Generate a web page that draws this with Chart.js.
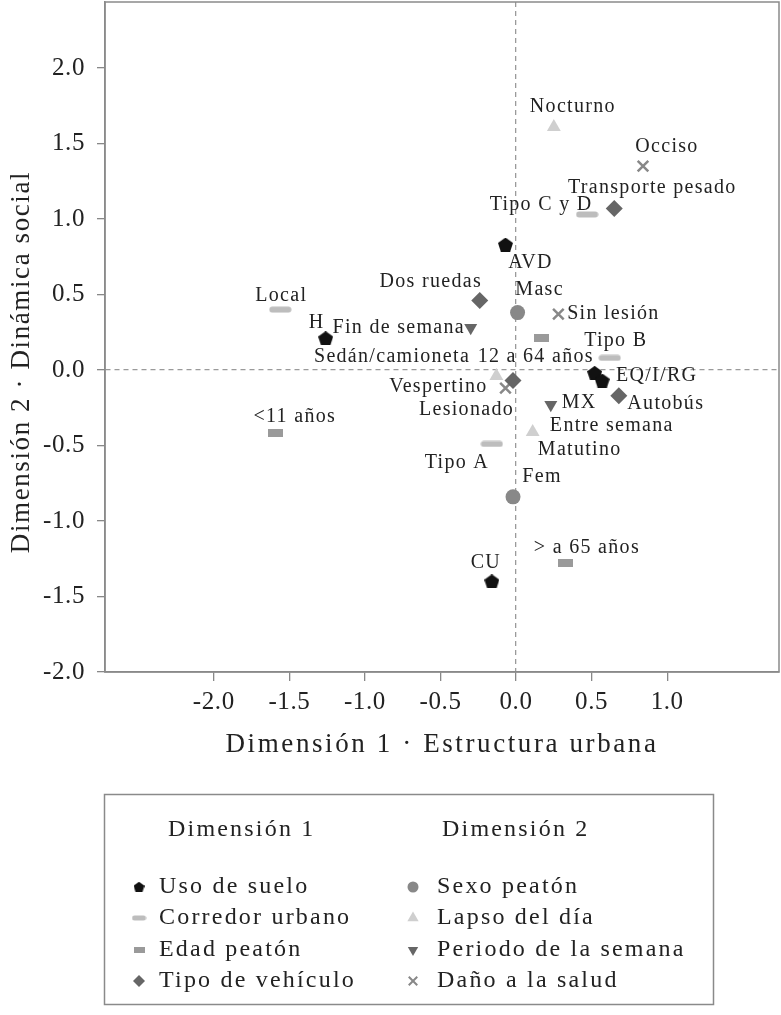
<!DOCTYPE html>
<html>
<head>
<meta charset="utf-8">
<script src="https://cdn.jsdelivr.net/npm/chart.js@4.4.1/dist/chart.umd.min.js"></script>
<style>
  html, body { margin: 0; padding: 0; background: #fff; }
  canvas { display: block; }
</style>
</head>
<body>
<canvas id="mapa" width="781" height="1015"></canvas>
<script>
// Dimensión 1
const usoNombres = ['AVD', 'H', 'EQ/I/RG', 'MX', 'CU'];
const usoX = [-0.07, -1.26, 0.52, 0.57, -0.16];
const usoY = [0.83, 0.21, -0.02, -0.07, -1.40];

const corredorNombres = ['Local', 'Tipo C y D', 'Tipo B', 'Tipo A'];
const corredorX = [-1.56, 0.47, 0.62, -0.16];
const corredorY = [0.40, 1.03, 0.08, -0.49];

const edadNombres = ['<11 años', '12 a 64 años', '> a 65 años'];
const edadX = [-1.59, 0.17, 0.33];
const edadY = [-0.42, 0.21, -1.28];

const vehiculoNombres = ['Dos ruedas', 'Transporte pesado', 'Sedán/camioneta', 'Autobús'];
const vehiculoX = [-0.24, 0.65, -0.02, 0.68];
const vehiculoY = [0.46, 1.07, -0.07, -0.17];

// Dimensión 2
const sexoNombres = ['Masc', 'Fem'];
const sexoX = [0.01, -0.02];
const sexoY = [0.38, -0.84];

const lapsoNombres = ['Nocturno', 'Vespertino', 'Matutino'];
const lapsoX = [0.25, -0.13, 0.11];
const lapsoY = [1.61, -0.04, -0.41];

const periodoNombres = ['Fin de semana', 'Entre semana'];
const periodoX = [-0.30, 0.23];
const periodoY = [0.28, -0.23];

const danoNombres = ['Occiso', 'Sin lesión', 'Lesionado'];
const danoX = [0.84, 0.28, -0.07];
const danoY = [1.35, 0.37, -0.12];

const xTicks = [-2.0, -1.5, -1.0, -0.5, 0.0, 0.5, 1.0];
const yTicks = [-2.0, -1.5, -1.0, -0.5, 0.0, 0.5, 1.0, 1.5, 2.0];

// donde va cada etiqueta respecto a su punto (px)
const desplaza = {
  'AVD': [25, 18], 'H': [-9, -16], 'EQ/I/RG': [62, 3], 'MX': [-23, 22], 'CU': [-6, -19],
  'Local': [1, -14], 'Tipo C y D': [-46, -10], 'Tipo B': [6, -17], 'Tipo A': [-35, 19],
  '<11 años': [19, -17], '12 a 64 años': [-6, 18], '> a 65 años': [21, -16],
  'Dos ruedas': [-49, -19], 'Transporte pesado': [38, -21], 'Sedán/camioneta': [-121, -24], 'Autobús': [47, 8],
  'Masc': [22, -23], 'Fem': [29, -20],
  'Nocturno': [19, -20], 'Vespertino': [-58, 11], 'Matutino': [47, 18],
  'Fin de semana': [-72, 0], 'Entre semana': [61, 21],
  'Occiso': [24, -19], 'Sin lesión': [55, 0], 'Lesionado': [-39, 22]
};

const FUENTE = '"Liberation Serif", "DejaVu Serif", serif';

function marca(tipo, w, h, color) {
  const c = document.createElement('canvas');
  c.width = w; c.height = h;
  const g = c.getContext('2d');
  g.fillStyle = color;
  if (tipo === 'pentagono') {
    const r = w / 2 / Math.sin(72 * Math.PI / 180);
    const cy = (h - 1.809 * r) / 2 + r;
    g.beginPath();
    for (let k = 0; k < 5; k++) {
      const a = -Math.PI / 2 + k * 2 * Math.PI / 5;
      g.lineTo(w / 2 + r * Math.cos(a), cy + r * Math.sin(a));
    }
    g.closePath();
    g.fill();
  } else if (tipo === 'pildora') {
    g.beginPath();
    g.roundRect(0.5, 0.5, w - 1, h - 1, (h - 1) / 2);
    g.fill();
  } else {
    g.fillRect(0, 0, w, h);
  }
  return c;
}

const pentagono = marca('pentagono', 15, 14, '#111');
const pildora = marca('pildora', 23, 7, '#bdbdbd');
const barra = marca('barra', 15, 8, '#9a9a9a');

function serie(label, nombres, xs, ys, estilo) {
  return Object.assign({
    label: label,
    nombres: nombres,
    data: xs.map((x, i) => ({ x: x, y: ys[i] })),
    pointBorderWidth: 0
  }, estilo);
}

const datasets = [
  serie('Uso de suelo', usoNombres, usoX, usoY, { pointStyle: pentagono, pointRadius: 7 }),
  serie('Corredor urbano', corredorNombres, corredorX, corredorY, { pointStyle: pildora, pointRadius: 7 }),
  serie('Edad peatón', edadNombres, edadX, edadY, { pointStyle: barra, pointRadius: 7 }),
  serie('Tipo de vehículo', vehiculoNombres, vehiculoX, vehiculoY, { pointStyle: 'rectRot', pointRadius: 8.5, pointBackgroundColor: '#666' }),
  serie('Sexo peatón', sexoNombres, sexoX, sexoY, { pointStyle: 'circle', pointRadius: 7.5, pointBackgroundColor: '#888' }),
  serie('Lapso del día', lapsoNombres, lapsoX, lapsoY, { pointStyle: 'triangle', pointRadius: 8, pointBackgroundColor: '#cfcfcf' }),
  serie('Periodo de la semana', periodoNombres, periodoX, periodoY, { pointStyle: 'triangle', pointRotation: 180, pointRadius: 7.5, pointBackgroundColor: '#666' }),
  serie('Daño a la salud', danoNombres, danoX, danoY, { pointStyle: 'crossRot', pointRadius: 7.5, pointBorderColor: '#888', pointBorderWidth: 2.5 })
];

// marcas chicas para el recuadro de abajo
const marcasLeyenda = [
  { pointStyle: marca('pentagono', 11, 10, '#111'), radius: 5 },
  { pointStyle: marca('pildora', 15, 6, '#bdbdbd'), radius: 5 },
  { pointStyle: marca('barra', 11, 6, '#9a9a9a'), radius: 5 },
  { pointStyle: 'rectRot', radius: 6, fill: '#666' },
  { pointStyle: 'circle', radius: 5.5, fill: '#888' },
  { pointStyle: 'triangle', radius: 6.5, fill: '#cfcfcf' },
  { pointStyle: 'triangle', rotation: 180, radius: 6, fill: '#666' },
  { pointStyle: 'crossRot', radius: 6, stroke: '#888' }
];

const etiquetas = {
  id: 'etiquetas',
  beforeDraw(chart) {
    chart.ctx.letterSpacing = '0.6px';
  },
  afterDatasetsDraw(chart) {
    const ctx = chart.ctx;
    ctx.save();
    ctx.font = '20px ' + FUENTE;
    ctx.letterSpacing = '1.3px';
    ctx.fillStyle = '#222';
    ctx.textAlign = 'center';
    ctx.textBaseline = 'middle';
    chart.data.datasets.forEach((ds, i) => {
      chart.getDatasetMeta(i).data.forEach((pt, j) => {
        const nombre = ds.nombres[j];
        const d = desplaza[nombre] || [0, -18];
        ctx.fillText(nombre, pt.x + d[0], pt.y + d[1]);
      });
    });
    ctx.restore();
  }
};

const marco = {
  id: 'marco',
  afterDraw(chart) {
    const ctx = chart.ctx;
    const a = chart.chartArea;
    ctx.save();
    ctx.strokeStyle = '#8a8a8a';
    ctx.lineWidth = 1.5;
    ctx.strokeRect(a.left, a.top, a.right - a.left, a.bottom - a.top);

    // títulos de los ejes
    ctx.fillStyle = '#222';
    ctx.textBaseline = 'middle';
    ctx.textAlign = 'center';
    ctx.font = '27px ' + FUENTE;
    ctx.letterSpacing = '2.6px';
    ctx.fillText('Dimensión 1 · Estructura urbana', 442, 745);
    ctx.save();
    ctx.translate(22, 362);
    ctx.rotate(-Math.PI / 2);
    ctx.letterSpacing = '1.6px';
    ctx.fillText('Dimensión 2 · Dinámica social', 0, 0);
    ctx.restore();

    // recuadro de la leyenda
    ctx.strokeRect(104.5, 794.5, 609, 210);
    ctx.font = '24px ' + FUENTE;
    ctx.letterSpacing = '2.2px';
    ctx.textAlign = 'left';
    ctx.fillText('Dimensión 1', 168, 830);
    ctx.fillText('Dimensión 2', 442, 830);
    const filas = [887, 918, 950, 981];
    chart.data.datasets.forEach((ds, i) => {
      const col = i < 4 ? 0 : 1;
      const y = filas[i % 4];
      const mx = col ? 413 : 139;
      const m = marcasLeyenda[i];
      ctx.save();
      ctx.fillStyle = m.fill || '#000';
      ctx.strokeStyle = m.stroke || '#000';
      ctx.lineWidth = 2;
      Chart.helpers.drawPoint(ctx, { pointStyle: m.pointStyle, rotation: m.rotation || 0, radius: m.radius, borderWidth: m.stroke ? 2 : 0 }, mx, y);
      ctx.restore();
      ctx.fillText(ds.label, col ? 437 : 159, y);
    });
    ctx.restore();
  }
};

const lineaCero = c => (c.tick && c.tick.value === 0) ? '#9a9a9a' : 'rgba(0,0,0,0)';

new Chart(document.getElementById('mapa'), {
  type: 'scatter',
  data: { datasets: datasets },
  options: {
    responsive: false,
    animation: false,
    events: [],
    layout: { autoPadding: false, padding: { top: 2, right: 2, bottom: 233, left: 0 } },
    plugins: {
      legend: { display: false },
      tooltip: { enabled: false }
    },
    scales: {
      x: {
        type: 'linear',
        min: -2.72,
        max: 1.74,
        afterBuildTicks: s => { s.ticks = xTicks.map(v => ({ value: v })); },
        afterFit: s => { s.height = 110; s.paddingLeft = 0; s.paddingRight = 0; },
        grid: { color: lineaCero, lineWidth: 1.3, tickLength: 9, tickColor: '#888', tickWidth: 1.3 },
        border: { display: true, color: '#888', width: 1.5, dash: [5, 4] },
        ticks: { padding: 6, color: '#222', font: { family: FUENTE, size: 25 }, maxRotation: 0, autoSkip: false, callback: v => v.toFixed(1) }
      },
      y: {
        type: 'linear',
        min: -2.0,
        max: 2.437,
        afterBuildTicks: s => { s.ticks = yTicks.map(v => ({ value: v })); },
        afterFit: s => { s.width = 105; s.paddingTop = 0; s.paddingBottom = 0; },
        grid: { color: lineaCero, lineWidth: 1.3, tickLength: 8, tickColor: '#888', tickWidth: 1.3 },
        border: { display: true, color: '#888', width: 1.5, dash: [5, 4] },
        ticks: { padding: 12, color: '#222', font: { family: FUENTE, size: 25, lineHeight: 0.1 }, autoSkip: false, callback: v => v.toFixed(1) }
      }
    }
  },
  plugins: [etiquetas, marco]
});
</script>
</body>
</html>
